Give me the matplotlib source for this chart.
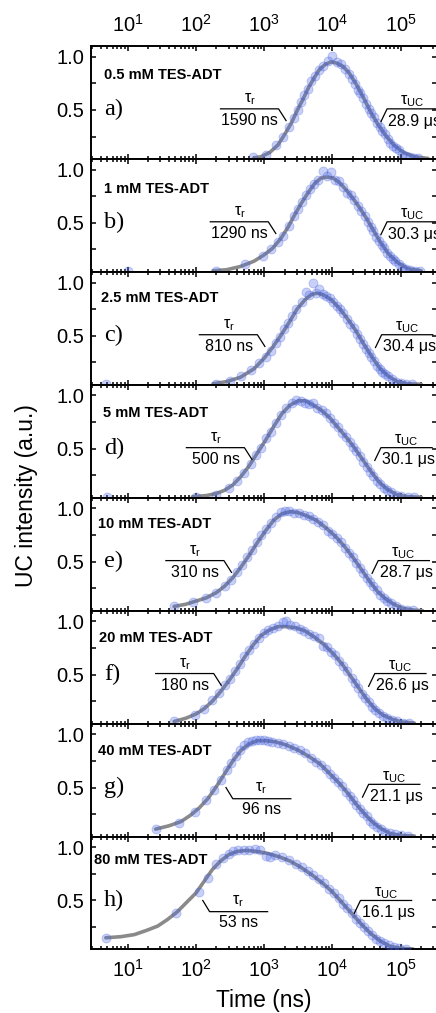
import numpy as np
import matplotlib.pyplot as plt
from matplotlib.ticker import LogLocator, NullFormatter

plt.rcParams['font.family'] = ['Liberation Sans', 'DejaVu Sans']
plt.rcParams['mathtext.default'] = 'regular'

# sample names and fitted time constants
samples = ['0.5 mM TES-ADT', '1 mM TES-ADT', '2.5 mM TES-ADT', '5 mM TES-ADT',
           '10 mM TES-ADT', '20 mM TES-ADT', '40 mM TES-ADT', '80 mM TES-ADT']
letters = ['a)', 'b)', 'c)', 'd)', 'e)', 'f)', 'g)', 'h)']
tau_r = ['1590 ns', '1290 ns', '810 ns', '500 ns', '310 ns', '180 ns', '96 ns', '53 ns']
tau_uc = ['28.9 μs', '30.3 μs', '30.4 μs', '30.1 μs', '28.7 μs', '26.6 μs', '21.1 μs', '16.1 μs']

# measured points, (log10 of time in ns, UC intensity)
pts_a = [(2.83, .06), (3.02, .08), (3.18, .17), (3.28, .25), (3.36, .34), (3.43, .42), (3.49, .50),
         (3.54, .57), (3.59, .64), (3.64, .70), (3.69, .77), (3.74, .82), (3.80, .87), (3.86, .91),
         (3.94, .96), (4.00, 1.01), (4.06, .95), (4.12, .93), (4.18, .88), (4.24, .84), (4.29, .79),
         (4.33, .74), (4.37, .69), (4.41, .66), (4.45, .61), (4.49, .56), (4.53, .51), (4.57, .47),
         (4.61, .43), (4.65, .38), (4.69, .34), (4.73, .30), (4.77, .27), (4.81, .23), (4.85, .19),
         (4.89, .16), (4.93, .14), (4.97, .12), (5.02, .09), (5.07, .07), (5.13, .06), (5.19, .05),
         (5.26, .045)]
pts_b = [(1.00, .05), (2.29, .05), (2.72, .11), (2.98, .19), (3.10, .25), (3.20, .32), (3.28, .38),
         (3.36, .47), (3.43, .56), (3.49, .63), (3.55, .70), (3.61, .76), (3.67, .82), (3.73, .86),
         (3.79, .90), (3.86, .99), (3.92, .94), (3.98, .98), (4.04, .90), (4.10, .89), (4.16, .84),
         (4.22, .78), (4.27, .76), (4.32, .71), (4.37, .66), (4.42, .61), (4.47, .56), (4.52, .51),
         (4.56, .46), (4.60, .42), (4.64, .37), (4.68, .33), (4.72, .29), (4.76, .26), (4.80, .22),
         (4.84, .19), (4.88, .16), (4.92, .14), (4.97, .11), (5.02, .09), (5.08, .07), (5.14, .06),
         (5.21, .05), (5.28, .045)]
pts_c = [(0.68, .05), (2.29, .05), (2.50, .08), (2.66, .12), (2.80, .18), (2.92, .24), (3.02, .30),
         (3.10, .36), (3.17, .43), (3.23, .49), (3.29, .56), (3.35, .62), (3.41, .69), (3.47, .75),
         (3.55, .82), (3.61, .91), (3.66, .88), (3.71, 1.00), (3.76, .90), (3.81, .94), (3.86, .89),
         (3.91, .87), (3.96, .85), (4.01, .82), (4.06, .78), (4.11, .75), (4.16, .71), (4.21, .66),
         (4.26, .61), (4.31, .57), (4.36, .52), (4.41, .47), (4.45, .42), (4.49, .38), (4.53, .34),
         (4.57, .30), (4.61, .26), (4.65, .22), (4.69, .19), (4.73, .16), (4.77, .14), (4.82, .12),
         (4.87, .09), (4.93, .07), (5.00, .06), (5.08, .05), (5.17, .045)]
pts_d = [(0.70, .05), (2.00, .05), (2.30, .07), (2.48, .13), (2.60, .20), (2.70, .27), (2.80, .36),
         (2.88, .44), (2.96, .51), (3.03, .60), (3.10, .66), (3.17, .74), (3.25, .82), (3.32, .88),
         (3.40, .93), (3.47, .96), (3.54, .95), (3.60, .93), (3.66, .92), (3.72, .93), (3.78, .88),
         (3.84, .86), (3.90, .84), (3.96, .79), (4.02, .74), (4.08, .70), (4.14, .65), (4.20, .61),
         (4.25, .56), (4.30, .52), (4.35, .48), (4.40, .43), (4.45, .38), (4.50, .33), (4.55, .28),
         (4.60, .24), (4.65, .20), (4.70, .17), (4.75, .13), (4.80, .11), (4.86, .09), (4.93, .07),
         (5.01, .06), (5.10, .05), (5.20, .045)]
pts_e = [(1.68, .08), (1.95, .12), (2.15, .16), (2.30, .21), (2.42, .27), (2.52, .33), (2.60, .40),
         (2.68, .47), (2.75, .54), (2.82, .61), (2.89, .68), (2.96, .75), (3.03, .81), (3.10, .86),
         (3.18, .92), (3.25, .97), (3.31, .98), (3.37, .98), (3.44, .96), (3.51, .96), (3.58, .94),
         (3.65, .93), (3.72, .90), (3.79, .87), (3.86, .84), (3.93, .79), (4.00, .76), (4.06, .72),
         (4.12, .68), (4.18, .63), (4.24, .58), (4.30, .54), (4.35, .49), (4.40, .44), (4.45, .39),
         (4.50, .35), (4.55, .31), (4.60, .27), (4.65, .23), (4.70, .19), (4.75, .16), (4.80, .13),
         (4.86, .11), (4.93, .08), (5.00, .06), (5.09, .05), (5.18, .045)]
pts_f = [(1.68, .06), (1.98, .12), (2.12, .18), (2.24, .26), (2.34, .33), (2.42, .40), (2.50, .46),
         (2.57, .53), (2.64, .60), (2.71, .67), (2.78, .73), (2.85, .79), (2.92, .84), (2.99, .89),
         (3.06, .92), (3.13, .94), (3.20, .96), (3.27, .99), (3.32, 1.00), (3.38, .97), (3.45, .96),
         (3.52, .93), (3.59, .91), (3.66, .88), (3.73, .86), (3.80, .84), (3.86, .77), (3.92, .76),
         (3.98, .71), (4.04, .68), (4.10, .63), (4.16, .58), (4.22, .53), (4.28, .47), (4.33, .42),
         (4.38, .37), (4.43, .32), (4.48, .28), (4.53, .24), (4.58, .20), (4.63, .17), (4.68, .14),
         (4.74, .11), (4.80, .09), (4.87, .07), (4.95, .06), (5.04, .05), (5.12, .045)]
pts_g = [(1.41, .11), (1.75, .17), (1.98, .27), (2.15, .38), (2.27, .48), (2.37, .57), (2.45, .66),
         (2.52, .73), (2.58, .80), (2.64, .85), (2.70, .90), (2.76, .93), (2.82, .94), (2.88, .95),
         (2.94, .95), (3.00, .95), (3.06, .94), (3.12, .93), (3.20, .92), (3.28, .91), (3.36, .89),
         (3.44, .87), (3.52, .85), (3.60, .82), (3.68, .78), (3.76, .74), (3.83, .71), (3.90, .67),
         (3.96, .63), (4.02, .59), (4.08, .55), (4.14, .51), (4.20, .46), (4.25, .42), (4.30, .38),
         (4.35, .34), (4.40, .30), (4.45, .26), (4.50, .23), (4.55, .19), (4.60, .16), (4.65, .13),
         (4.71, .11), (4.77, .08), (4.84, .07), (4.92, .06), (5.00, .05), (5.10, .045)]
pts_h = [(0.68, .15), (1.71, .38), (2.04, .58), (2.17, .71), (2.30, .84), (2.40, .90), (2.48, .94),
         (2.55, .96), (2.62, .97), (2.70, .97), (2.78, .97), (2.86, .98), (2.94, .97), (3.02, .92),
         (3.08, .91), (3.16, .93), (3.26, .91), (3.36, .88), (3.46, .84), (3.56, .81), (3.64, .78),
         (3.72, .74), (3.80, .70), (3.88, .66), (3.95, .61), (4.02, .57), (4.09, .52), (4.16, .47),
         (4.22, .43), (4.28, .38), (4.34, .33), (4.40, .29), (4.46, .25), (4.52, .21), (4.58, .18),
         (4.64, .14), (4.70, .12), (4.76, .10), (4.83, .08), (4.90, .06), (4.98, .05), (5.07, .045)]

# fit curves, (log10 of time in ns, UC intensity)
fit_a = [(2.85, .05), (2.95, .06), (3.08, .10), (3.20, .17), (3.30, .27), (3.40, .38), (3.48, .49),
         (3.56, .59), (3.65, .71), (3.74, .81), (3.81, .88), (3.90, .93), (3.98, .95), (4.06, .94),
         (4.15, .91), (4.24, .85), (4.34, .75), (4.45, .62), (4.56, .48), (4.66, .37), (4.78, .26),
         (4.90, .17), (5.04, .10), (5.20, .06), (5.40, .045)]
fit_b = [(2.25, .05), (2.45, .06), (2.65, .09), (2.85, .14), (3.00, .20), (3.12, .26), (3.24, .35),
         (3.35, .46), (3.45, .58), (3.55, .69), (3.65, .79), (3.74, .87), (3.83, .92), (3.92, .93),
         (4.01, .92), (4.10, .88), (4.20, .81), (4.30, .73), (4.40, .64), (4.50, .54), (4.60, .43),
         (4.70, .32), (4.82, .21), (4.95, .13), (5.10, .07), (5.30, .05)]
fit_c = [(2.25, .05), (2.45, .07), (2.65, .11), (2.85, .19), (3.00, .29), (3.12, .39), (3.24, .50),
         (3.36, .62), (3.48, .75), (3.60, .84), (3.70, .89), (3.78, .90), (3.88, .88), (3.98, .84),
         (4.10, .76), (4.22, .66), (4.34, .55), (4.46, .42), (4.58, .30), (4.70, .19), (4.82, .12),
         (4.95, .07), (5.10, .05), (5.30, .045)]
fit_d = [(1.95, .05), (2.15, .06), (2.30, .08), (2.42, .11), (2.54, .16), (2.66, .24), (2.78, .34),
         (2.90, .46), (3.02, .58), (3.14, .71), (3.26, .83), (3.38, .91), (3.50, .95), (3.60, .95),
         (3.72, .91), (3.84, .86), (3.96, .79), (4.08, .70), (4.20, .61), (4.32, .51), (4.44, .40),
         (4.56, .29), (4.68, .19), (4.80, .12), (4.94, .07), (5.10, .05), (5.30, .045)]
fit_e = [(1.68, .08), (1.85, .10), (2.00, .13), (2.15, .16), (2.30, .21), (2.42, .27), (2.54, .35),
         (2.66, .45), (2.78, .56), (2.90, .68), (3.02, .79), (3.14, .89), (3.26, .95), (3.38, .97),
         (3.50, .96), (3.62, .93), (3.76, .89), (3.90, .82), (4.04, .74), (4.18, .64), (4.30, .54),
         (4.42, .43), (4.54, .32), (4.66, .22), (4.78, .15), (4.90, .10), (5.04, .06), (5.20, .045),
         (5.32, .04)]
fit_f = [(1.68, .06), (1.85, .09), (2.00, .13), (2.12, .18), (2.24, .25), (2.36, .34), (2.48, .44),
         (2.60, .55), (2.72, .67), (2.84, .78), (2.96, .87), (3.08, .92), (3.20, .95), (3.32, .95),
         (3.46, .94), (3.60, .91), (3.74, .85), (3.88, .78), (4.02, .69), (4.14, .60), (4.26, .49),
         (4.38, .38), (4.50, .27), (4.62, .18), (4.74, .12), (4.88, .08), (5.02, .055), (5.20, .045)]
fit_g = [(1.41, .11), (1.60, .14), (1.78, .18), (1.92, .24), (2.05, .31), (2.18, .40), (2.30, .51),
         (2.42, .63), (2.54, .75), (2.66, .85), (2.78, .91), (2.90, .94), (3.02, .94), (3.16, .93),
         (3.32, .90), (3.50, .85), (3.66, .79), (3.82, .72), (3.96, .63), (4.10, .54), (4.22, .45),
         (4.34, .35), (4.46, .26), (4.58, .18), (4.70, .12), (4.84, .07), (5.00, .05), (5.20, .045)]
fit_h = [(0.68, .15), (0.90, .16), (1.10, .18), (1.28, .22), (1.44, .26), (1.58, .32), (1.72, .39),
         (1.86, .48), (2.00, .57), (2.12, .68), (2.24, .79), (2.36, .87), (2.48, .93), (2.60, .96),
         (2.74, .97), (2.90, .96), (3.06, .94), (3.22, .91), (3.38, .87), (3.54, .81), (3.70, .74),
         (3.86, .66), (4.00, .58), (4.14, .48), (4.28, .38), (4.42, .28), (4.56, .19), (4.70, .12),
         (4.84, .07), (5.00, .05), (5.18, .045)]

points = [pts_a, pts_b, pts_c, pts_d, pts_e, pts_f, pts_g, pts_h]
fits = [fit_a, fit_b, fit_c, fit_d, fit_e, fit_f, fit_g, fit_h]

# where the tau brackets sit (log10 t of the corner)
r_corner = [3.21, 3.06, 2.90, 2.71, 2.41, 2.26, 2.54, 2.20]
uc_corner = [4.80, 4.80, 4.72, 4.71, 4.67, 4.62, 4.53, 4.41]
uc_level = [0.51, 0.51, 0.51, 0.51, 0.51, 0.51, 0.53, 0.50]
name_x = [0.038, 0.038, 0.029, 0.034, 0.019, 0.024, 0.019, 0.010]
name_y = [0.83, 0.82, 0.85, 0.84, 0.85, 0.84, 0.84, 0.88]

fig, axes = plt.subplots(8, 1, sharex=True, figsize=(4.36, 10.13), dpi=100)
fig.subplots_adjust(left=0.2087, right=1.0023, top=0.9546, bottom=0.0627, hspace=0)

for i, ax in enumerate(axes):
    px, py = np.array(points[i]).T
    fx, fy = np.array(fits[i]).T
    ax.plot(10 ** fx, fy, color='#8a8a8a', lw=2.6, zorder=2, solid_capstyle='round')
    ax.scatter(10 ** px, py, s=42, color='#4a66e6', alpha=0.3,
               edgecolors='#3a55d8', linewidths=0.6, zorder=3)

    ax.set_xscale('log')
    ax.set_xlim(2.9, 3.4e5)
    ax.set_ylim(0.04, 1.1)
    ax.set_yticks([0.5, 1.0])
    ax.set_yticks([0.25, 0.75], minor=True)
    ax.set_yticklabels(['0.5', '1.0'])
    ax.xaxis.set_major_locator(LogLocator(base=10, numticks=12))
    ax.xaxis.set_minor_locator(LogLocator(base=10, subs=np.arange(2, 10), numticks=12))
    ax.xaxis.set_minor_formatter(NullFormatter())
    ax.tick_params(which='both', direction='in', top=True, bottom=True, left=True, right=True,
                   width=1.1, labelsize=14.5)
    ax.tick_params(axis='x', which='major', length=3.5, pad=7)
    ax.tick_params(axis='x', which='minor', length=2.0)
    ax.tick_params(axis='y', which='both', length=3.5, pad=5)
    for s in ax.spines.values():
        s.set_linewidth(1.4)

    tr = ax.get_yaxis_transform()
    ax.text(name_x[i], name_y[i], samples[i], transform=tr, fontsize=10.5,
            fontweight='bold', va='center', ha='left')
    ax.text(0.038, 0.5, letters[i], transform=tr, family='Liberation Serif',
            fontsize=17.5, va='center', ha='left')

    # rise time bracket
    k = r_corner[i]
    if i < 6:
        bx = [k - 0.85, k, k + 0.11]
        by = [0.51, 0.51, 0.40]
        cx, ty, vy = k - 0.42, 0.60, 0.40
    else:
        bx = [k - 0.10, k, k + 0.85]
        by = [0.50, 0.395, 0.395]
        cx, ty, vy = k + 0.42, 0.49, 0.29
    ax.plot(10 ** np.array(bx), by, color='black', lw=0.9, zorder=4)
    ax.text(10 ** cx, ty, 'τ$_r$', fontsize=11.5, ha='center', va='center')
    ax.text(10 ** cx, vy, tau_r[i], fontsize=11.5, ha='center', va='center')

    # upconversion lifetime bracket
    k = uc_corner[i]
    lv = uc_level[i]
    bx = [k - 0.09, k, k + 0.75]
    by = [lv - 0.12, lv, lv]
    ax.plot(10 ** np.array(bx), by, color='black', lw=0.9, zorder=4, clip_on=False)
    ax.text(10 ** (k + 0.37), lv + 0.07, 'τ$_{UC}$', fontsize=11.5, ha='center', va='center')
    ax.text(10 ** (k + 0.02), lv - 0.115, tau_uc[i], fontsize=11.5, ha='left', va='center')

axes[0].tick_params(axis='x', which='major', labeltop=True, pad=7)
axes[-1].tick_params(axis='x', which='major', labelbottom=True)

fig.text(26 / 436, 1 - 496 / 1013, 'UC intensity (a.u.)', rotation=90,
         fontsize=16.5, ha='center', va='center')
fig.text(264 / 436, 1 - 1000 / 1013, 'Time (ns)', fontsize=16.5, ha='center', va='center')

plt.savefig('out.png', dpi=100)
